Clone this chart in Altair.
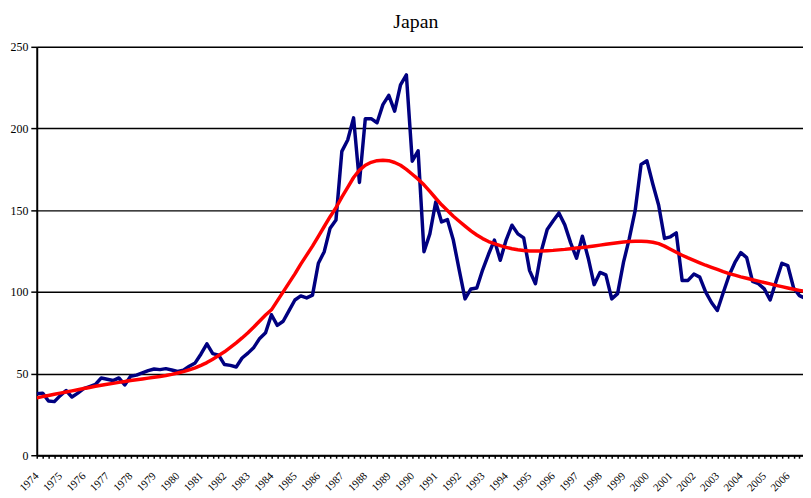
import altair as alt
import pandas as pd

# Year labels on the category axis (one label every 4 quarters)
years = list(range(1974, 2007))

# Quarterly index for Japan (1974Q1 .. 2006Q4)
japan = [
    37.6, 38.0, 33.2, 32.8, 36.5, 39.6, 35.6, 38.0, 40.7, 42.0,
    43.3, 47.3, 46.5, 45.7, 47.3, 43.0, 48.3, 49.0, 50.4, 51.8,
    52.8, 52.4, 53.0, 52.2, 51.3, 52.0, 54.5, 56.5, 62.0, 68.2,
    62.2, 61.3, 55.5, 55.0, 54.0, 59.5, 62.5, 66.0, 71.5, 75.0,
    86.0, 79.5, 82.0, 88.5, 95.0, 97.5, 96.3, 98.0, 117.5, 124.6,
    139.0, 144.0, 186.0, 193.0, 206.5, 167.0, 206.0, 206.0, 203.5, 214.6,
    220.3, 210.6, 226.7, 232.8, 180.0, 186.3, 124.6, 135.5, 155.0, 142.8,
    144.2, 131.7, 113.5, 95.7, 101.8, 102.4, 113.5, 123.0, 131.7, 119.3,
    131.7, 140.8, 135.5, 133.0, 113.0, 105.0, 125.0, 138.2, 143.4, 148.3,
    141.0, 130.0, 120.6, 134.1, 120.6, 104.4, 111.9, 110.4, 95.7, 98.9,
    118.0, 132.7, 149.9, 178.0, 180.2, 166.0, 153.0, 132.7, 133.7, 136.1,
    107.0, 107.0, 110.9, 109.0, 100.0, 93.5, 88.6, 99.5, 110.0, 118.0,
    124.0, 121.0, 106.4, 105.0, 101.8, 95.0, 106.4, 117.5, 116.1, 102.4,
    97.7, 96.0,
]

# Smooth trend (red)
trend = [
    35.1, 35.9, 36.6, 37.3, 38.0, 38.7, 39.4, 40.1, 40.8, 41.5,
    42.2, 42.8, 43.4, 44.0, 44.6, 45.1, 45.7, 46.2, 46.7, 47.2,
    47.7, 48.2, 48.8, 49.5, 50.3, 51.2, 52.3, 53.5, 55.0, 56.7,
    58.8, 61.0, 63.3, 66.0, 68.8, 71.8, 75.0, 78.5, 82.2, 85.8,
    89.0, 94.5, 100.0, 105.5, 111.0, 117.0, 122.5, 128.0, 134.0, 140.0,
    146.0, 151.5, 158.0, 164.0, 170.0, 174.5, 177.5, 179.3, 180.3, 180.6,
    180.3, 179.2, 177.5, 175.0, 172.0, 169.0, 165.5, 161.5, 157.3, 153.3,
    149.8, 146.3, 143.2, 140.2, 137.3, 134.8, 132.6, 130.8, 129.5, 128.3,
    127.2, 126.4, 125.8, 125.3, 125.0, 125.0, 125.0, 125.2, 125.4, 125.7,
    126.0, 126.4, 126.8, 127.2, 127.6, 128.1, 128.6, 129.1, 129.6, 130.1,
    130.5, 130.8, 131.0, 131.0, 130.8, 130.4, 129.5, 128.0, 126.1, 124.2,
    122.4, 120.8, 119.3, 117.8, 116.3, 115.0, 113.7, 112.4, 111.2, 110.2,
    109.2, 108.3, 107.4, 106.6, 105.7, 104.9, 104.0, 103.2, 102.4, 101.6,
    100.9, 100.2,
]

y_ticks = [0, 50, 100, 150, 200, 250]

n = len(japan)
df = pd.DataFrame({
    "q": list(range(n)) * 2,
    "value": japan + trend,
    "series": ["Japan"] * n + ["Trend"] * n,
})

first_year = years[0]
label_expr = (
    f"datum.value % 4 == 0 ? '' + ({first_year} + floor(datum.value / 4)) : ''"
)

font = "Liberation Serif"

x_enc = alt.X(
    "q:Q",
    scale=alt.Scale(domain=[0, 130.6], nice=False, zero=False),
    axis=alt.Axis(
        values=list(range(131)),
        labelExpr=label_expr,
        title=None,
        grid=False,
        labelAngle=315,
        labelAlign="right",
        labelBaseline="middle",
        labelFont=font,
        labelFontSize=11,
        labelColor="#000000",
        labelPadding=16,
        labelOverlap=False,
        labelBound=False,
        labelFlush=False,
        tickSize=3,
        tickWidth=1.5,
        tickColor="#000000",
        domainColor="#000000",
        domainWidth=2,
    ),
)

y_enc = alt.Y(
    "value:Q",
    scale=alt.Scale(domain=[0, 250], nice=False),
    axis=alt.Axis(
        values=y_ticks,
        title=None,
        grid=True,
        gridColor="#000000",
        gridWidth=1.5,
        labelFont=font,
        labelFontSize=12,
        labelColor="#000000",
        labelPadding=3,
        tickSize=6,
        tickWidth=1.5,
        tickColor="#000000",
        domainColor="#000000",
        domainWidth=2,
    ),
)

color = alt.Color(
    "series:N",
    scale=alt.Scale(domain=["Japan", "Trend"], range=["#000080", "#FF0000"]),
    legend=None,
)

base = alt.Chart(df).encode(x=x_enc, y=y_enc, color=color)

blue = base.transform_filter(alt.datum.series == "Japan").mark_line(
    strokeWidth=3.5, clip=True, strokeJoin="round"
)
red = base.transform_filter(alt.datum.series == "Trend").mark_line(
    strokeWidth=3.5, clip=True, strokeJoin="round"
)

chart = (
    alt.layer(blue, red)
    .properties(
        width=773,
        height=412,
        autosize=alt.AutoSizeParams(type="none"),
        padding={"left": 29, "top": 37, "right": 0, "bottom": 41},
        title=alt.Title(
            "Japan",
            font=font,
            fontSize=20,
            fontWeight="normal",
            color="#000000",
            dx=-4,
            offset=9,
        ),
    )
    .configure_view(stroke=None)
    .configure(background="#ffffff")
)

chart.save("out.html", embed_options={"renderer": "svg", "actions": False})
